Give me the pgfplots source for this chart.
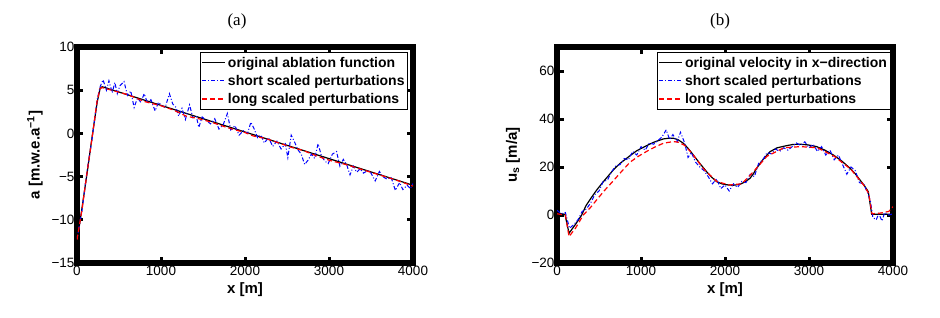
\documentclass[border=0pt]{standalone}
\usepackage{fontspec}
\setmainfont{Liberation Serif}
\setsansfont{Liberation Sans}
\usepackage{pgfplots}
\pgfplotsset{compat=1.18}
\definecolor{mblue}{rgb}{0,0,1}
\definecolor{mred}{rgb}{1,0,0}
\pgfplotsset{
  myaxis/.style={
    scale only axis, width=336pt, height=216pt, anchor=south west,
    axis line style={line width=6pt},
    tick style={line width=3pt, black},
    major tick length=6.5pt,
    tick align=inside,
    xmin=0, xmax=4000,
    xtick={0,1000,2000,3000,4000},
    xticklabels={0,1000,2000,3000,4000},
    ticklabel style={font=\sffamily\fontsize{13.5}{15}\selectfont},
    xticklabel style={yshift=0pt},
    yticklabel style={xshift=1pt},
    label style={font=\sffamily\bfseries\fontsize{15}{17}\selectfont},
    xlabel style={at={(axis description cs:0.5,-0.125)}, anchor=center},
    legend cell align=left,
    legend style={anchor=north east, draw=black, line width=0.8pt,
      font=\sffamily\bfseries\fontsize{14}{16}\selectfont,
      inner sep=1pt, row sep=0pt, nodes={inner ysep=3.2pt}},
    legend image code/.code={\draw[#1] (0pt,0pt) -- (23pt,0pt);},
    every axis plot/.append style={line width=1.1pt},
    clip=true,
  },
  orig/.style={black, solid, line width=1.2pt},
  short/.style={mblue, dash pattern=on 4pt off 2pt on 1pt off 2pt, line width=1pt},
  long/.style={mred, dash pattern=on 5pt off 3pt, line width=1.2pt},
}
\begin{document}
\begin{tikzpicture}
\useasboundingbox (0,0) rectangle (940pt,317pt);
\node[font=\rmfamily\fontsize{17}{19}\selectfont] at (237pt,296pt) {(a)};
\node[font=\rmfamily\fontsize{17}{19}\selectfont] at (720pt,296pt) {(b)};
% ---------------- (a)
\begin{axis}[myaxis, at={(77pt,54pt)},
  ymin=-15, ymax=10,
  ytick={-15,-10,-5,0,5,10},
  yticklabels={−15,−10,−5,0,5,10},
  xlabel={x [m]},
  ylabel={a [m.w.e.a\textsuperscript{−1}]},
  ylabel style={at={(axis description cs:-0.125,0.5)}, anchor=center},
  legend style={at={(0.985,0.975)}},
]
\addplot[orig] coordinates {
(0,-12.5) (60,-8.6) (120,-4.6) (180,-0.4) (240,3.6) (275,5.2) (300,5.4) (4000,-6.0)};
\addplot[short] coordinates {
(0,-12.2) (60,-8.9) (120,-4.3) (180,-0.6) (240,3.9) (275,5.4) (310,6.2) (350,5.0) (380,6.1) (420,4.7) (450,5.9) (480,4.6) (510,5.5) (560,6.0) (600,4.4) (640,4.9) (680,3.0) (720,4.1) (760,3.6) (800,4.6) (840,3.5) (880,3.9) (930,2.6) (970,3.6) (1010,3.2) (1050,3.0) (1100,4.6) (1140,3.4) (1180,3.0) (1210,2.0) (1250,2.9) (1290,1.6) (1340,3.3) (1380,1.8) (1420,2.0) (1450,0.7) (1490,1.9) (1540,1.5) (1590,1.1) (1640,1.7) (1690,0.5) (1740,1.0) (1790,2.3) (1830,0.4) (1880,0.9) (1930,-0.2) (1980,0.3) (2030,0.0) (2070,1.3) (2110,0.5) (2150,-0.5) (2190,-0.2) (2230,-1.1) (2280,-0.5) (2330,-1.5) (2380,-0.9) (2430,-1.8) (2480,-1.2) (2510,-2.8) (2550,-0.2) (2590,-1.0) (2630,-1.9) (2670,-2.4) (2710,-3.6) (2750,-3.1) (2790,-2.4) (2830,-2.9) (2870,-1.2) (2910,-2.6) (2950,-3.2) (2990,-3.5) (3040,-2.4) (3090,-2.1) (3130,-3.8) (3170,-3.0) (3210,-3.6) (3250,-4.8) (3290,-3.8) (3330,-4.5) (3370,-4.1) (3410,-4.6) (3460,-4.3) (3500,-4.6) (3550,-5.5) (3600,-4.4) (3640,-5.0) (3690,-5.3) (3740,-5.1) (3790,-6.6) (3840,-5.7) (3880,-6.5) (3930,-6.0) (3970,-6.4) (4000,-5.8)};
\addplot[long] coordinates {
(0,-12.3) (60,-8.8) (120,-4.5) (180,-0.5) (240,3.8) (275,5.2) (300,5.3) (450,4.9) (600,4.5) (800,3.7) (1000,3.2) (1150,2.7) (1300,2.0) (1450,1.7) (1600,1.3) (1750,0.8) (1850,0.5) (2000,0.1) (2100,-0.3) (2250,-0.6) (2400,-1.1) (2550,-1.6) (2700,-2.0) (2850,-2.6) (3000,-3.1) (3200,-3.6) (3400,-4.2) (3600,-4.8) (3800,-5.4) (4000,-6.1)};
\legend{original ablation function, short scaled perturbations, long scaled perturbations}
\end{axis}
% ---------------- (b)
\begin{axis}[myaxis, at={(557pt,54pt)},
  ymin=-20, ymax=70,
  ytick={-20,0,20,40,60},
  yticklabels={−20,0,20,40,60},
  xlabel={x [m]},
  ylabel={u\textsubscript{s} [m/a]},
  ylabel style={at={(axis description cs:-0.131,0.5)}, anchor=center},
  legend style={at={(0.992,0.975)}},
]
\addplot[orig] coordinates {
(0,0.7) (50,0.5) (95,0.3) (143,-7.6) (214,-4.2) (294,0.0) (345,3.9) (400,6.8) (472,10.4) (550,13.8) (671,18.8) (750,21.5) (869,24.7) (950,26.8) (1067,28.9) (1150,30.3) (1266,31.7) (1330,32.0) (1385,32.0) (1440,31.4) (1504,29.9) (1560,27.8) (1623,25.0) (1700,21.5) (1782,18.0) (1840,15.8) (1901,13.9) (1960,13.0) (2040,12.5) (2100,12.4) (2179,12.8) (2240,13.8) (2298,15.3) (2340,17.3) (2377,19.5) (2450,23.0) (2536,26.4) (2620,28.0) (2734,28.9) (2810,29.4) (2893,29.5) (2990,29.2) (3091,28.5) (3190,27.0) (3290,25.0) (3390,22.5) (3488,19.5) (3550,17.2) (3607,14.6) (3660,12.2) (3706,9.7) (3746,0.3) (4000,0.3)};
\addplot[short] coordinates {
(0,2.0) (50,0.5) (100,1.0) (130,-3.0) (150,-5.5) (200,-4.0) (250,-2.0) (300,1.5) (350,2.5) (400,5.0) (450,8.5) (500,10.0) (550,14.0) (600,14.5) (650,18.0) (700,20.5) (750,21.0) (800,23.5) (850,23.0) (900,26.5) (950,25.0) (1000,28.5) (1050,27.0) (1100,30.0) (1150,29.5) (1200,31.0) (1250,32.5) (1300,35.5) (1340,31.5) (1380,33.5) (1430,30.5) (1470,34.5) (1520,30.0) (1560,24.0) (1600,26.0) (1650,22.0) (1700,20.0) (1750,18.5) (1800,16.0) (1850,13.0) (1900,15.0) (1950,11.0) (2000,12.5) (2050,10.0) (2100,13.0) (2150,11.5) (2200,14.0) (2250,13.5) (2300,17.0) (2350,16.0) (2400,21.5) (2450,23.0) (2500,26.0) (2550,25.5) (2600,27.5) (2650,26.5) (2700,28.0) (2750,27.0) (2800,28.5) (2850,30.0) (2900,29.0) (2950,30.5) (3000,28.0) (3050,29.5) (3100,26.5) (3150,28.5) (3200,25.0) (3250,27.0) (3300,23.0) (3350,25.0) (3400,21.0) (3450,17.0) (3500,20.0) (3550,18.5) (3600,13.5) (3650,13.0) (3700,9.0) (3730,6.0) (3760,-1.0) (3800,-2.0) (3830,0.5) (3870,-2.5) (3900,1.0) (3950,0.0) (4000,0.5)};
\addplot[long] coordinates {
(0,0.5) (100,0.0) (143,-9.0) (220,-5.5) (313,0.0) (400,3.2) (472,6.3) (560,10.0) (671,14.3) (770,18.2) (869,22.0) (970,24.5) (1067,26.5) (1170,28.4) (1266,29.9) (1385,30.6) (1450,30.3) (1520,29.0) (1600,26.0) (1750,19.0) (1900,14.0) (2050,12.5) (2200,13.0) (2350,18.5) (2500,24.5) (2700,28.0) (2900,28.5) (3100,28.0) (3300,24.5) (3500,19.0) (3650,12.5) (3710,9.0) (3750,0.5) (3850,0.8) (3950,1.5) (4000,3.5)};
\legend{original velocity in x−direction, short scaled perturbations, long scaled perturbations}
\end{axis}
\end{tikzpicture}
\end{document}
